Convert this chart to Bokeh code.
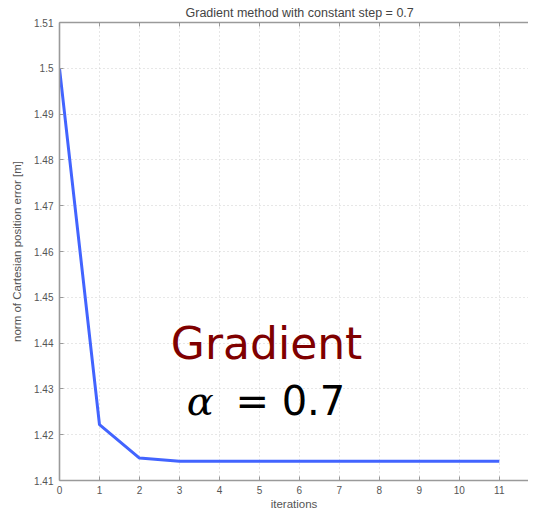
from bokeh.plotting import figure
from bokeh.models import (FixedTicker, LinearAxis, Label, NumeralTickFormatter, Title, Range1d)
from bokeh.embed import file_html
from bokeh.resources import INLINE

# ---- data ----
iterations = [0, 1, 2, 3, 4, 5, 6, 7, 8, 9, 10, 11]
error_norm = [1.5, 1.4222, 1.4149, 1.4142, 1.4142, 1.4142, 1.4142, 1.4142, 1.4142, 1.4142, 1.4142, 1.4142]
x_ticks = [0, 1, 2, 3, 4, 5, 6, 7, 8, 9, 10, 11]
y_ticks = [1.41, 1.42, 1.43, 1.44, 1.45, 1.46, 1.47, 1.48, 1.49, 1.5, 1.51]
title_text = "Gradient method with constant step = 0.7"
x_label = "iterations"
y_label = "norm of Cartesian position error [m]"

AX = "#9a9a9a"
TXT = "#555555"
FONT = "Liberation Sans"

p = figure(width=528, height=512, output_backend="svg", toolbar_location=None,
           x_range=Range1d(0, 11.73), y_range=Range1d(1.41, 1.51),
           min_border_left=59, min_border_right=0, min_border_top=20, min_border_bottom=31,
           background_fill_color="white", border_fill_color="white")
p.outline_line_color = None

p.title = Title(text=title_text, align="left", text_font=FONT, text_font_size="12.5px",
                text_color="#444444", text_font_style="normal", standoff=6, offset=126)

for ax in (p.xaxis[0], p.yaxis[0]):
    ax.axis_line_color = AX
    ax.axis_line_width = 1.6
    ax.major_tick_line_color = AX
    ax.major_tick_in = 4
    ax.major_tick_out = 0
    ax.minor_tick_line_color = None
    ax.major_label_text_font = FONT
    ax.major_label_text_font_size = "10px"
    ax.major_label_text_color = TXT
    ax.axis_label_text_font = FONT
    ax.axis_label_text_font_size = "11.5px"
    ax.axis_label_text_color = TXT
    ax.axis_label_text_font_style = "normal"

p.xaxis[0].ticker = FixedTicker(ticks=x_ticks)
p.xaxis[0].axis_label = x_label
p.xaxis[0].major_label_standoff = 5
p.xaxis[0].axis_label_standoff = 1
p.yaxis[0].ticker = FixedTicker(ticks=y_ticks)
p.yaxis[0].formatter = NumeralTickFormatter(format="0.0[0]")
p.yaxis[0].axis_label = y_label
p.yaxis[0].major_label_standoff = 6
p.yaxis[0].axis_label_standoff = 8

top = LinearAxis(ticker=FixedTicker(ticks=x_ticks), axis_line_color=AX, axis_line_width=1.6,
                 major_tick_line_color=AX, major_tick_in=4, major_tick_out=0,
                 minor_tick_line_color=None, major_label_standoff=0,
                 major_label_overrides={t: "" for t in x_ticks})
p.add_layout(top, "above")

p.xgrid.ticker = FixedTicker(ticks=x_ticks)
p.ygrid.ticker = FixedTicker(ticks=y_ticks)
for g in (p.xgrid[0], p.ygrid[0]):
    g.grid_line_color = "#cfcfcf"
    g.grid_line_dash = "1 3"
    g.grid_line_width = 1

p.line(iterations, error_norm, line_color="#4264ff", line_width=3)

p.add_layout(Label(x=5.18, y=1.4399, text="Gradient", text_align="center", text_baseline="alphabetic",
                   text_font="DejaVu Sans", text_font_size="44px", text_color="#7f0000"))
p.add_layout(Label(x=3.18, y=1.4274, text="α", text_align="left", text_baseline="alphabetic",
                   text_font="DejaVu Serif", text_font_style="italic", text_font_size="40px",
                   text_color="black"))
p.add_layout(Label(x=4.4, y=1.4274, text="= 0.7", text_align="left", text_baseline="alphabetic",
                   text_font="DejaVu Sans", text_font_size="40px", text_color="black"))

open("out.html", "w").write(file_html(p, INLINE))
